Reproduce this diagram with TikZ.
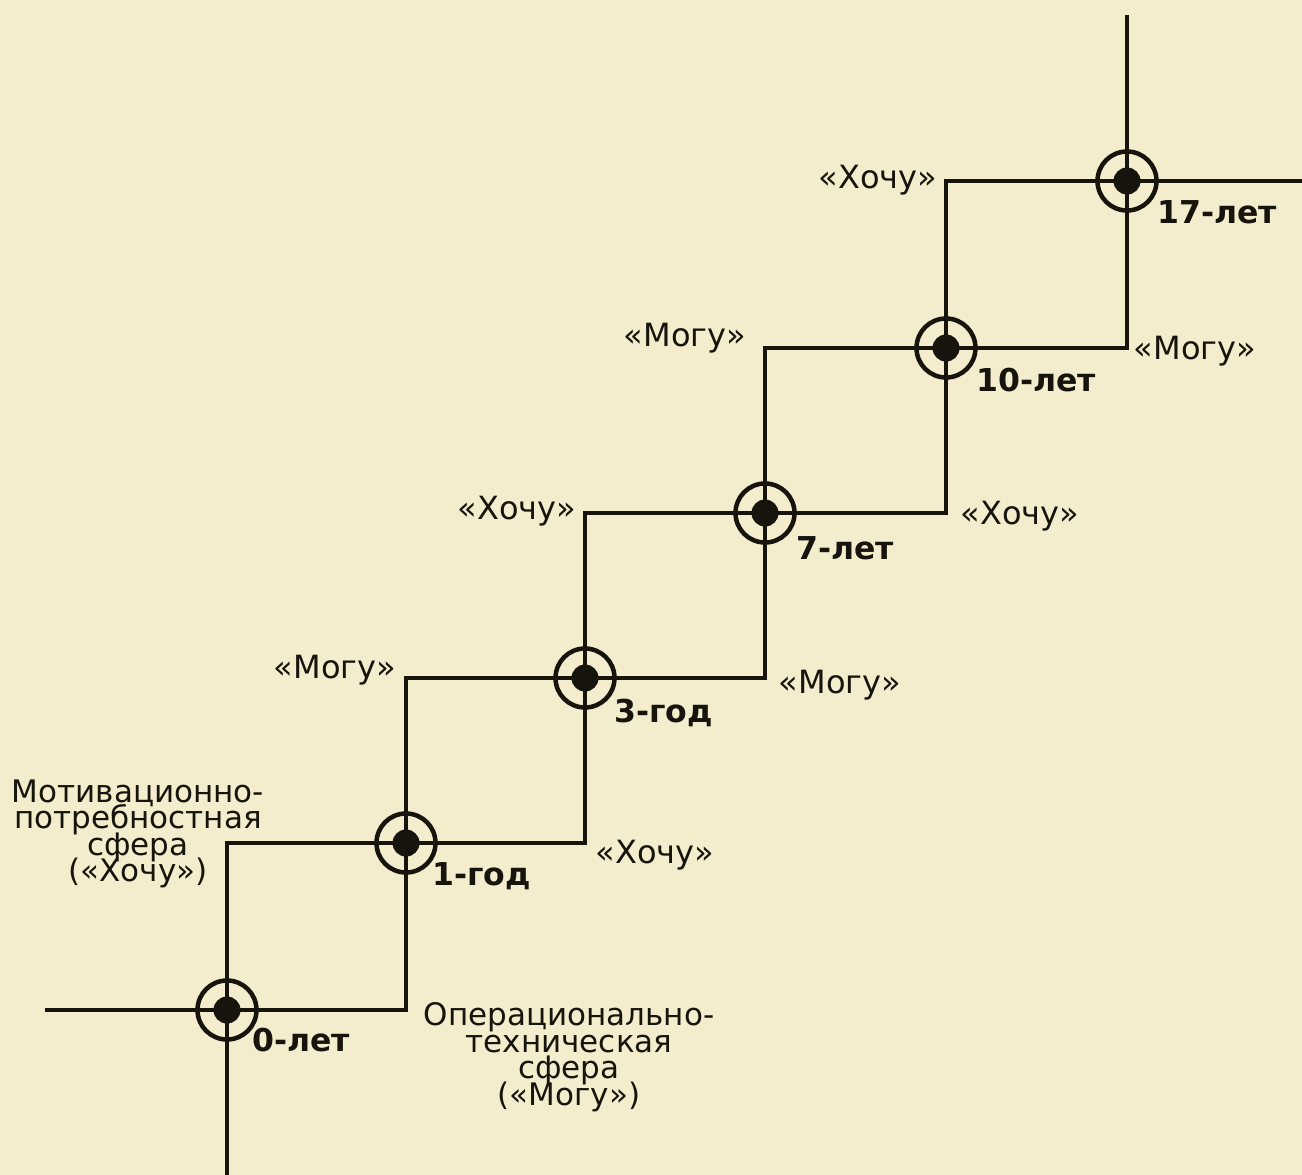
\documentclass[tikz,border=0pt]{standalone}
\usepackage{fontspec}
\setmainfont{DejaVu Sans}
\definecolor{bg}{RGB}{243,236,205}
\definecolor{ink}{RGB}{22,20,12}
\newcommand\mytightlines{\lineskiplimit=-30pt\relax\lineskip=0pt\relax}
\begin{document}
\begin{tikzpicture}[x=1pt,y=-1pt,
  conn/.style={draw=ink,line width=4.2pt},
  ring/.style={circle,draw=ink,line width=4.5pt,minimum size=59pt,inner sep=0pt},
  lab/.style={font=\fontsize{32}{32}\selectfont,text=ink,inner sep=0pt},
  age/.style={font=\fontsize{31.5}{31.5}\selectfont\bfseries,text=ink,inner sep=0pt,anchor=west},
  sphere/.style={font=\fontsize{31}{26.5}\selectfont\mytightlines,text=ink,inner sep=0pt,align=center}]
\fill[bg] (0,0) rectangle (1302,1175);
\useasboundingbox (0,0) rectangle (1302,1175);
% nodes
\node[ring] (n0) at (227,1010) {};
\node[ring] (n1) at (406,843) {};
\node[ring] (n2) at (585,678) {};
\node[ring] (n3) at (765,513) {};
\node[ring] (n4) at (946,348) {};
\node[ring] (n5) at (1127,181) {};
\coordinate (L) at (45,1010);
\coordinate (B) at (227,1175);
\coordinate (T) at (1127,15);
\coordinate (R) at (1302,181);
% connectors
\draw[conn] (L) -- (n0.center) -- (B);
\draw[conn] (n0.center) -| (n1.center);
\draw[conn] (n0.center) |- (n1.center);
\draw[conn] (n1.center) -| (n2.center);
\draw[conn] (n1.center) |- (n2.center);
\draw[conn] (n2.center) -| (n3.center);
\draw[conn] (n2.center) |- (n3.center);
\draw[conn] (n3.center) -| (n4.center);
\draw[conn] (n3.center) |- (n4.center);
\draw[conn] (n4.center) -| (n5.center);
\draw[conn] (n4.center) |- (n5.center);
\draw[conn] (T) -- (n5.center) -- (R);
% dots
\foreach \n in {n0,n1,n2,n3,n4,n5} \fill[ink] (\n.center) circle (13.5);
% age labels
\node[age] (a0) at (252,1040) {0-лет};
\node[age] (a1) at (432,876) {1-год};
\node[age] (a2) at (614,713) {3-год};
\node[age] (a3) at (796,548) {7-лет};
\node[age] (a4) at (976,380) {10-лет};
\node[age] (a5) at (1157,212) {17-лет};
% want / can labels
\node[lab] (h1) at (878,180) {«Хочу»};
\node[lab] (m1) at (1195,351) {«Могу»};
\node[lab] (m2) at (685,338) {«Могу»};
\node[lab] (h2) at (1020,516) {«Хочу»};
\node[lab] (h3) at (517,511) {«Хочу»};
\node[lab] (m3) at (840,685) {«Могу»};
\node[lab] (m4) at (335,670) {«Могу»};
\node[lab] (h4) at (655,855) {«Хочу»};
% spheres
\node[sphere] (sw) at (138,834) {Мотивационно-\\потребностная\\сфера\\(«Хочу»)};
\node[sphere] (sc) at (569,1057) {Операционально-\\техническая\\сфера\\(«Могу»)};
\end{tikzpicture}
\end{document}
